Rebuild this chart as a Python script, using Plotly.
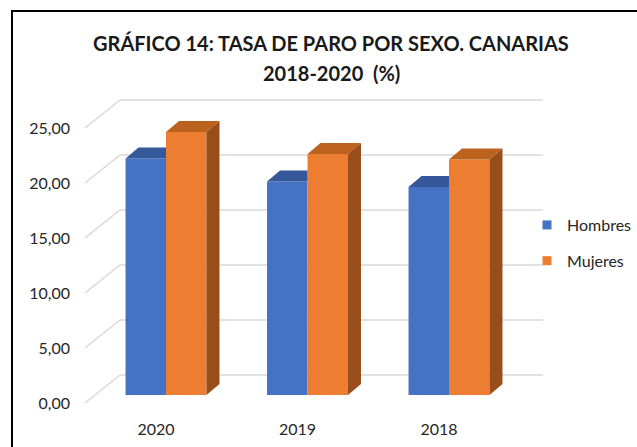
import plotly.graph_objects as go

# ---------------- data ----------------
years = ["2020", "2019", "2018"]
hombres = [21.5, 19.4, 18.9]
mujeres = [23.9, 21.9, 21.4]
y_ticks = [0, 5, 10, 15, 20, 25]
y_ticktext = ["0,00", "5,00", "10,00", "15,00", "20,00", "25,00"]

# -------------- geometry / style --------------
W, H = 637, 447
L, R, T, B = 85, 547, 95, 410          # plot area in pixels
PX_X = 141.5                            # pixels per category
PX_Y = 11.0                             # pixels per value unit
X0_PIX = 166                            # pixel of category 0 (pair center)
V0_PIX = 395                            # pixel of value 0 (bar plane)

x_range = [(L - X0_PIX) / PX_X, (R - X0_PIX) / PX_X]
y_range = [(V0_PIX - B) / PX_Y, (V0_PIX - T) / PX_Y]

bar_w = 0.286
dx = 13 / PX_X        # depth offset of 3D bars
dy = 11 / PX_Y
front_dx, front_dy = -10 / PX_X, -8 / PX_Y   # front plane offset
back_dy = 20 / PX_Y                           # back wall offset
front_left = (85 - X0_PIX) / PX_X
back_left = (120 - X0_PIX) / PX_X
back_right = (543 - X0_PIX) / PX_X

C_H, C_H_TOP = "#4472C4", "#35589a"
C_M, C_M_TOP, C_M_SIDE = "#ED7D31", "#bb621f", "#984d1b"
GRID = "#d9d9d9"
FONT = "Lato"
TXT = "#262626"


def paper_x(px):
    return (px - L) / (R - L)


def paper_y(py):
    return (B - py) / (B - T)


fig = go.Figure()
xs = list(range(len(years)))

# front faces as real bars
fig.add_trace(go.Bar(x=xs, y=hombres, width=bar_w, offset=-bar_w,
                     marker=dict(color=C_H, line=dict(width=0)),
                     showlegend=False, hoverinfo="skip"))
fig.add_trace(go.Bar(x=xs, y=mujeres, width=bar_w, offset=0,
                     marker=dict(color=C_M, line=dict(width=0)),
                     showlegend=False, hoverinfo="skip"))

# 3D faces derived from the values
for i, (vh, vm) in enumerate(zip(hombres, mujeres)):
    xl, xm, xr = i - bar_w, i, i + bar_w
    # Hombres top (clipped where Mujeres front hides it)
    fig.add_trace(go.Scatter(
        x=[xl, xl + dx, xm, xm, xl], y=[vh, vh + dy, vh + dy, vh, vh],
        fill="toself", fillcolor=C_H_TOP, mode="none",
        showlegend=False, hoverinfo="skip"))
    # Mujeres top
    fig.add_trace(go.Scatter(
        x=[xm, xm + dx, xr + dx, xr, xm], y=[vm, vm + dy, vm + dy, vm, vm],
        fill="toself", fillcolor=C_M_TOP, mode="none",
        showlegend=False, hoverinfo="skip"))
    # Mujeres side
    fig.add_trace(go.Scatter(
        x=[xr, xr + dx, xr + dx, xr, xr], y=[0, dy, vm + dy, vm, 0],
        fill="toself", fillcolor=C_M_SIDE, mode="none",
        showlegend=False, hoverinfo="skip"))

# legend entries
fig.add_trace(go.Scatter(x=[None], y=[None], mode="markers", name="Hombres",
                         legendgroup="h",
                         marker=dict(symbol="square", size=9, color=C_H)))
fig.add_trace(go.Scatter(x=[None], y=[None], mode="markers", name="Mujeres",
                         legendgroup="m",
                         marker=dict(symbol="square", size=9, color=C_M)))

# back wall gridlines + side diagonals
shapes = []
for v in y_ticks:
    shapes.append(dict(type="line", xref="x", yref="y", layer="below",
                       x0=back_left, x1=back_right, y0=v + back_dy, y1=v + back_dy,
                       line=dict(color=GRID, width=1.5)))
    shapes.append(dict(type="line", xref="x", yref="y", layer="below",
                       x0=front_left, x1=back_left, y0=v + front_dy, y1=v + back_dy,
                       line=dict(color=GRID, width=1.5)))
# chart border
shapes.append(dict(type="rect", xref="paper", yref="paper", layer="above",
                   x0=paper_x(12), x1=paper_x(660), y0=paper_y(470), y1=paper_y(11),
                   line=dict(color="#000000", width=2), fillcolor="rgba(0,0,0,0)"))

annotations = [
    dict(text="<b>GRÁFICO 14: TASA DE PARO POR SEXO. CANARIAS</b>",
         xref="paper", yref="paper", x=paper_x(331), y=paper_y(43),
         xanchor="center", yanchor="middle", showarrow=False,
         font=dict(family=FONT, size=20, color="#1a1a1a")),
    dict(text="<b>2018-2020  (%)</b>",
         xref="paper", yref="paper", x=paper_x(331), y=paper_y(73),
         xanchor="center", yanchor="middle", showarrow=False,
         font=dict(family=FONT, size=20, color="#1a1a1a")),
]

fig.update_layout(
    width=W, height=H,
    margin=dict(l=L, r=W - R, t=T, b=H - B, autoexpand=False),
    paper_bgcolor="white", plot_bgcolor="white",
    barmode="overlay",
    shapes=shapes, annotations=annotations,
    font=dict(family=FONT, size=16, color=TXT),
    legend=dict(xref="container", yref="container", x=527 / W, y=1 - 208 / H,
                xanchor="left", yanchor="top", tracegroupgap=12,
                font=dict(family=FONT, size=16, color=TXT),
                bgcolor="rgba(0,0,0,0)", itemwidth=30),
    xaxis=dict(range=x_range, showgrid=False, zeroline=False, showline=False,
               ticks="", tickmode="array",
               tickvals=[i + front_dx for i in xs], ticktext=years,
               ticklabelstandoff=8, fixedrange=True),
    yaxis=dict(range=y_range, showgrid=False, zeroline=False, showline=False,
               ticks="", tickmode="array",
               tickvals=[v + front_dy for v in y_ticks], ticktext=y_ticktext,
               ticklabelstandoff=14, fixedrange=True),
)

fig.write_html("out.html",
               config={"displayModeBar": False},
               post_script="document.body.style.margin='0';"
                           "document.body.style.overflow='hidden';")
